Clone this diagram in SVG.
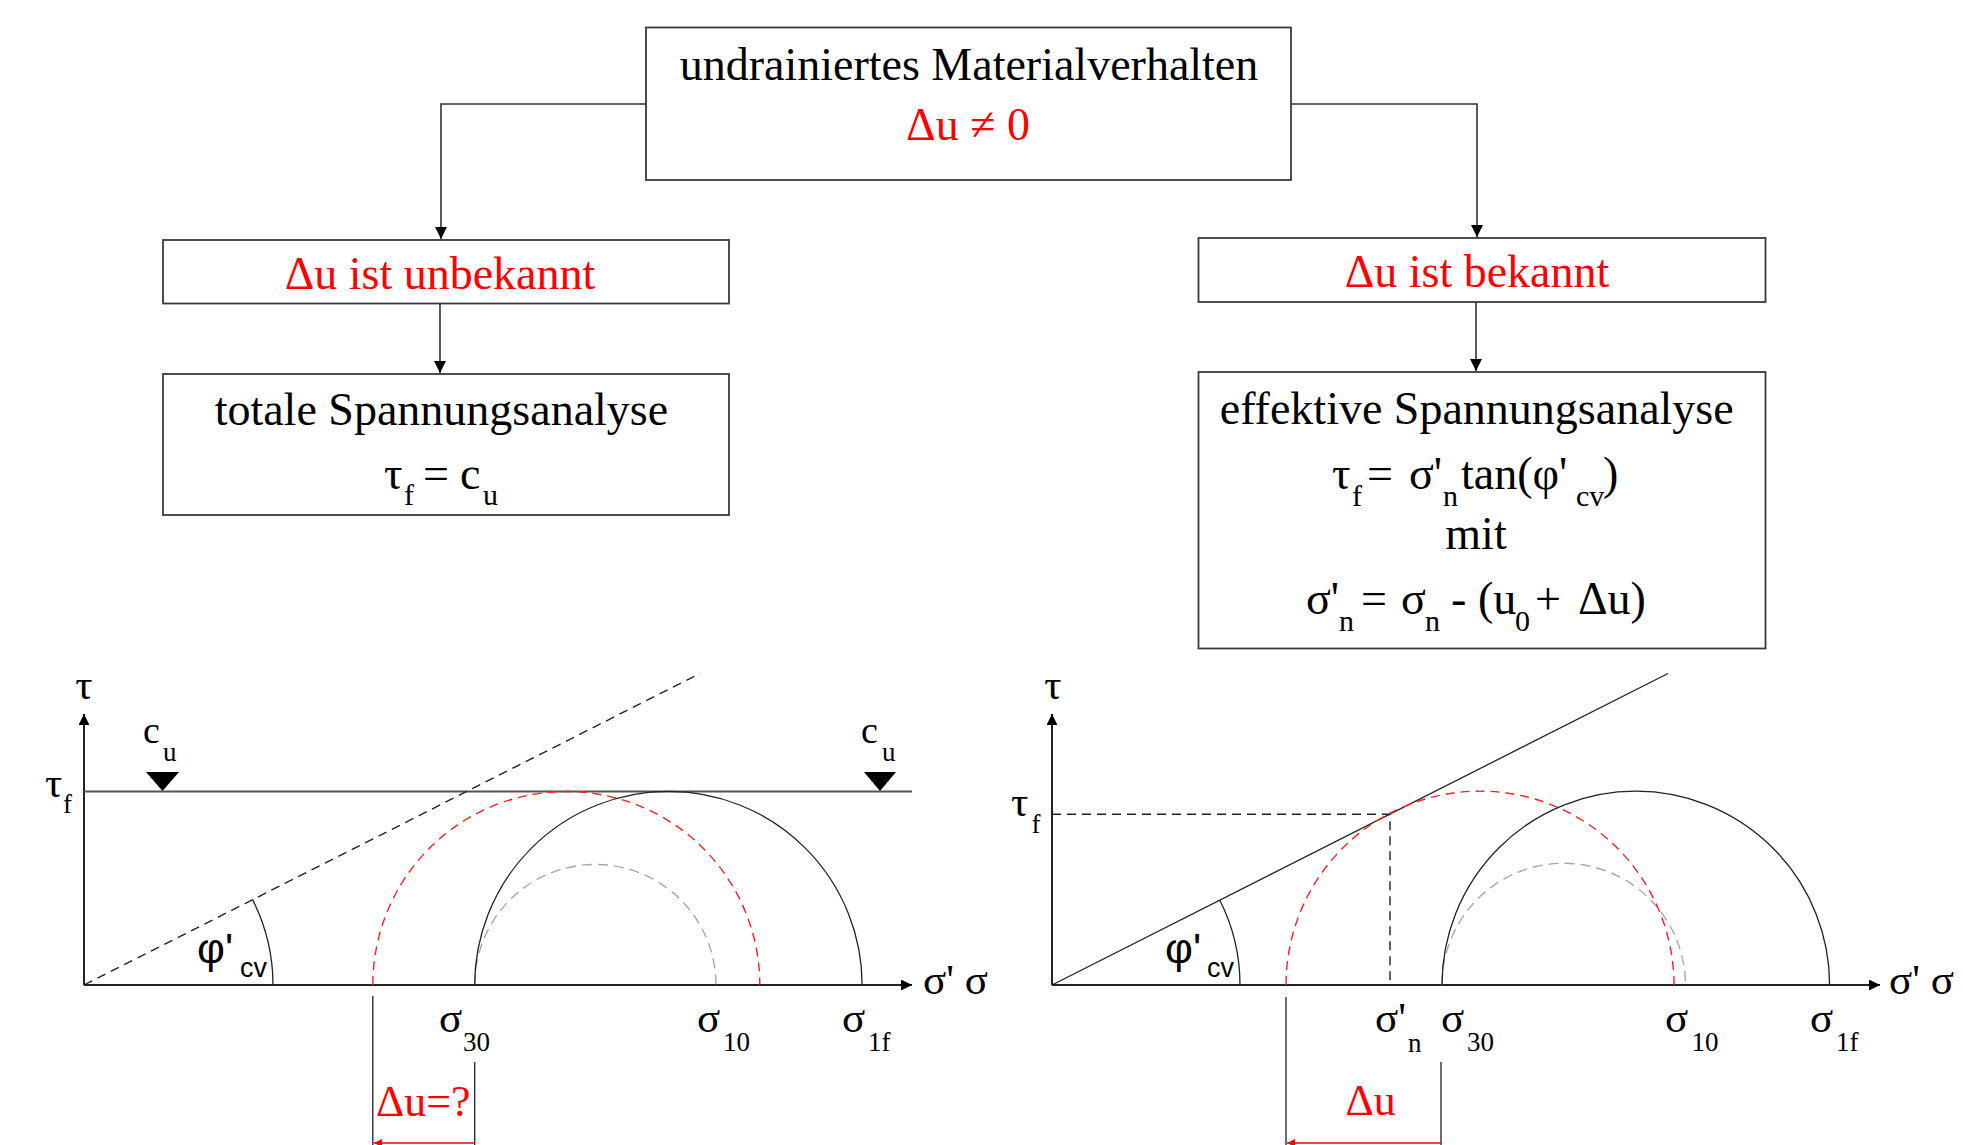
<svg xmlns="http://www.w3.org/2000/svg" width="1963" height="1145" viewBox="0 0 1963 1145">
<defs>
<style>
.box{fill:#fff;stroke:#3a3a3a;stroke-width:1.8}
.t{font-family:"Liberation Serif","Times New Roman",serif;fill:#000}
.b{font-size:46px}
.s{font-size:30px}
.d{font-size:38px}
.g{font-size:43px}
.ds{font-size:27px}
.red{fill:#ff0000}
.sans{font-family:"Liberation Sans",Arial,sans-serif;fill:#000}
.con{fill:none;stroke:#333;stroke-width:1.6}
.ax{fill:none;stroke:#222;stroke-width:2}
.thin{fill:none;stroke:#222;stroke-width:1.3}
.dash{fill:none;stroke:#222;stroke-width:1.4;stroke-dasharray:9 6}
.rdash{fill:none;stroke:#ff2020;stroke-width:1.4;stroke-dasharray:9 6}
.gdash{fill:none;stroke:#a8a8a8;stroke-width:1.4;stroke-dasharray:10 6}
</style>
<marker id="ah" viewBox="0 0 12 12" refX="12" refY="6" markerWidth="12" markerHeight="12" markerUnits="userSpaceOnUse" orient="auto">
<path d="M0,0 L12,6 L0,12 Z" fill="#000"/>
</marker>
<marker id="ax" viewBox="0 0 11 11" refX="11" refY="5.5" markerWidth="11" markerHeight="11" markerUnits="userSpaceOnUse" orient="auto">
<path d="M0,0 L11,5.5 L0,11 Z" fill="#000"/>
</marker>
<marker id="rah" viewBox="0 0 8 8" refX="8" refY="4" markerWidth="8" markerHeight="8" markerUnits="userSpaceOnUse" orient="auto">
<path d="M0,0 L8,4 L0,8 Z" fill="#ff0000"/>
</marker>
</defs>
<rect width="1963" height="1145" fill="#fff"/>

<g id="connectors">
<path class="con" d="M646,104 H441 V239" marker-end="url(#ah)"/>
<path class="con" d="M1291,104 H1477 V237" marker-end="url(#ah)"/>
<path class="con" d="M440,303.5 V373" marker-end="url(#ah)"/>
<path class="con" d="M1476,302 V371" marker-end="url(#ah)"/>
</g>

<g id="node-undrainiert">
<rect class="box" x="646" y="27.5" width="645" height="152.5"/>
<text class="t b" x="969" y="80" text-anchor="middle">undrainiertes Materialverhalten</text>
<text class="t b red" x="968" y="140" text-anchor="middle">Δu ≠ 0</text>
</g>

<g id="node-unbekannt">
<rect class="box" x="163" y="240" width="566" height="63.5"/>
<text class="t b red" x="440" y="289" text-anchor="middle">Δu ist unbekannt</text>
</g>

<g id="node-bekannt">
<rect class="box" x="1198.5" y="238" width="567" height="64"/>
<text class="t b red" x="1477" y="287" text-anchor="middle">Δu ist bekannt</text>
</g>

<g id="node-totale">
<rect class="box" x="163" y="374" width="566" height="141"/>
<text class="t b" x="441.4" y="425" text-anchor="middle">totale Spannungsanalyse</text>
<text class="t b"><tspan x="384" y="489">τ</tspan><tspan class="s" x="404" y="505">f</tspan><tspan x="423" y="489">=</tspan><tspan x="460" y="489">c</tspan><tspan class="s" x="483" y="505">u</tspan></text>
</g>

<g id="node-effektive">
<rect class="box" x="1198.5" y="372" width="567" height="276.5"/>
<text class="t b" x="1476.7" y="424" text-anchor="middle">effektive Spannungsanalyse</text>
<text class="t b"><tspan x="1332" y="489">τ</tspan><tspan class="s" x="1352" y="505.5">f</tspan><tspan x="1367" y="489">=</tspan><tspan x="1409" y="489">σ'</tspan><tspan class="s" x="1443" y="505.5">n</tspan><tspan x="1461" y="489">tan(φ'</tspan><tspan class="s" x="1576" y="505.5">cv</tspan><tspan x="1603" y="489">)</tspan></text>
<text class="t b" x="1476" y="549" text-anchor="middle">mit</text>
<text class="t b"><tspan x="1306" y="614">σ'</tspan><tspan class="s" x="1339" y="630.5">n</tspan><tspan x="1361" y="614">=</tspan><tspan x="1401" y="614">σ</tspan><tspan class="s" x="1425" y="630.5">n</tspan><tspan x="1451" y="614">-</tspan><tspan x="1478" y="614">(u</tspan><tspan class="s" x="1515" y="630.5">0</tspan><tspan x="1535" y="614">+</tspan><tspan x="1578" y="614">Δu)</tspan></text>
</g>

<g id="diagram-left">
<path class="ax" d="M84,985 V714" marker-end="url(#ax)"/>
<path class="ax" d="M84,985 H912" marker-end="url(#ax)"/>
<path d="M84,791.5 H912" fill="none" stroke="#555" stroke-width="2"/>
<path class="dash" d="M84,985 L700,673.5"/>
<path class="thin" d="M273,985 A189,189 0 0 0 252.6,899.6"/>
<path class="gdash" d="M474.7,985 A120.65,120.65 0 0 1 716,985"/>
<path class="rdash" d="M372.8,985 A193.5,193.5 0 0 1 759.8,985"/>
<path class="thin" d="M474.7,985 A193.7,193.7 0 0 1 862.1,985"/>
<path d="M146,772 L179,772 L162.5,791 Z" fill="#000"/>
<path d="M864,772 L896,772 L880,791 Z" fill="#000"/>
<path class="thin" d="M372.8,996 V1145"/>
<path class="thin" d="M474.7,1062 V1145"/>
<path d="M474.7,1143 H374" fill="none" stroke="#ff0000" stroke-width="1.5" marker-end="url(#rah)"/>
<text class="t g" x="84" y="699" text-anchor="middle">τ</text>
<text class="t d"><tspan class="g" x="45" y="797">τ</tspan><tspan class="ds" x="63" y="813">f</tspan></text>
<text class="t d"><tspan x="143" y="743">c</tspan><tspan class="ds" x="163" y="761">u</tspan></text>
<text class="t d"><tspan x="861" y="743">c</tspan><tspan class="ds" x="882" y="761">u</tspan></text>
<text class="sans g"><tspan x="197" y="963">φ'</tspan><tspan class="ds" x="240" y="977">cv</tspan></text>
<text class="t g" x="923" y="994">σ' σ</text>
<text class="t g"><tspan x="439" y="1032">σ</tspan><tspan class="ds" x="463" y="1051">30</tspan></text>
<text class="t g"><tspan x="697" y="1032">σ</tspan><tspan class="ds" x="723" y="1051">10</tspan></text>
<text class="t g"><tspan x="842" y="1032">σ</tspan><tspan class="ds" x="868" y="1051">1f</tspan></text>
<text class="t red" font-size="44" x="376" y="1116">Δu=?</text>
</g>

<g id="diagram-right">
<path class="ax" d="M1052,985 V714" marker-end="url(#ax)"/>
<path class="ax" d="M1052,985 H1880" marker-end="url(#ax)"/>
<path class="thin" d="M1052,985 L1668,673.5"/>
<path class="dash" d="M1052,814.3 H1390 V985"/>
<path class="thin" d="M1240,985 A188,188 0 0 0 1219.7,900"/>
<path class="gdash" d="M1442,985 A121.7,121.7 0 0 1 1685.4,985"/>
<path class="rdash" d="M1286,985 A194,194 0 0 1 1674,985"/>
<path class="thin" d="M1442,985 A193.8,193.8 0 0 1 1829.6,985"/>
<path class="thin" d="M1286,997 V1145"/>
<path class="thin" d="M1441,1062 V1145"/>
<path d="M1441,1143 H1287" fill="none" stroke="#ff0000" stroke-width="1.5" marker-end="url(#rah)"/>
<text class="t g" x="1053" y="699" text-anchor="middle">τ</text>
<text class="t d"><tspan class="g" x="1011" y="816">τ</tspan><tspan class="ds" x="1031.4" y="832.7">f</tspan></text>
<text class="sans g"><tspan x="1165" y="963">φ'</tspan><tspan class="ds" x="1207" y="977">cv</tspan></text>
<text class="t g" x="1889" y="994">σ' σ</text>
<text class="t g"><tspan x="1375" y="1032">σ'</tspan><tspan class="ds" x="1408" y="1052">n</tspan></text>
<text class="t g"><tspan x="1441" y="1032">σ</tspan><tspan class="ds" x="1467" y="1051">30</tspan></text>
<text class="t g"><tspan x="1665" y="1032">σ</tspan><tspan class="ds" x="1691.6" y="1051">10</tspan></text>
<text class="t g"><tspan x="1810" y="1032">σ</tspan><tspan class="ds" x="1836" y="1051">1f</tspan></text>
<text class="t red" font-size="44" x="1345.5" y="1115">Δu</text>
</g>
</svg>
